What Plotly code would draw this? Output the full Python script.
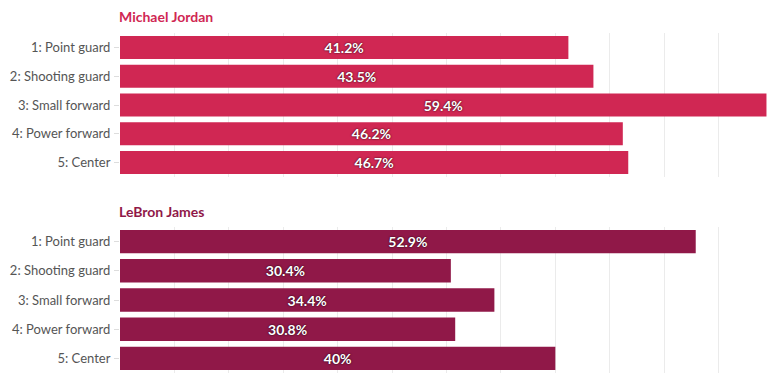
import plotly.graph_objects as go
from plotly.subplots import make_subplots

positions = ["1: Point guard", "2: Shooting guard", "3: Small forward", "4: Power forward", "5: Center"]
jordan = [41.2, 43.5, 59.4, 46.2, 46.7]
lebron = [52.9, 30.4, 34.4, 30.8, 40]
players = ["Michael Jordan", "LeBron James"]
colors = ["#d02753", "#901848"]

# page body has an 8px default margin, so the figure is offset by 8px
OFF = 8
W, H = 777 - OFF, 387 - OFF
mt, mb, ml, mr = 33 - OFF, 14, 120 - OFF, 4
ph = H - mt - mb

fig = make_subplots(rows=2, cols=1, vertical_spacing=0.1)

for i, vals in enumerate([jordan, lebron]):
    fig.add_trace(go.Bar(
        y=positions, x=vals, orientation="h",
        marker=dict(color=colors[i], line=dict(width=0)),
        text=[f"{v:g}%" for v in vals],
        textposition="inside", insidetextanchor="middle",
        textfont=dict(family="Lato", size=14, color="white", weight="bold",
                      shadow="0px 0px 2px rgba(0,0,0,0.9)"),
        hoverinfo="skip", showlegend=False,
    ), row=i + 1, col=1)

def to_paper(y_screen):
    return (H - mb - (y_screen - OFF)) / ph

d1 = [to_paper(177), 1]
d2 = [0, to_paper(227)]
fig.update_layout(
    width=W, height=H,
    margin=dict(l=ml, r=mr, t=mt, b=mb, autoexpand=False),
    plot_bgcolor="white", paper_bgcolor="white",
    bargap=0.2,
    font=dict(family="Lato", color="#444"),
    yaxis=dict(domain=d1), yaxis2=dict(domain=d2),
)
for r in (1, 2):
    fig.update_xaxes(range=[0, 60], dtick=5, showticklabels=False,
                     showgrid=True, gridcolor="#ebebeb", zeroline=False,
                     showline=False, automargin=False, row=r, col=1)
    fig.update_yaxes(autorange="reversed", ticks="outside", ticklen=5,
                     tickcolor="#dddddd", tickfont=dict(size=13, color="#555"),
                     ticklabelstandoff=1,
                     showline=False, showgrid=False, automargin=False, row=r, col=1)

title_y = [17, 211]
for i, name in enumerate(players):
    fig.add_annotation(text=f"<b>{name}</b>", xref="paper", yref="paper",
                       x=0, y=to_paper(title_y[i]), xanchor="left", yanchor="middle",
                       xshift=-2, borderpad=0,
                       showarrow=False, font=dict(size=14, color=colors[i], family="Lato"))

fig.write_html("out.html")
